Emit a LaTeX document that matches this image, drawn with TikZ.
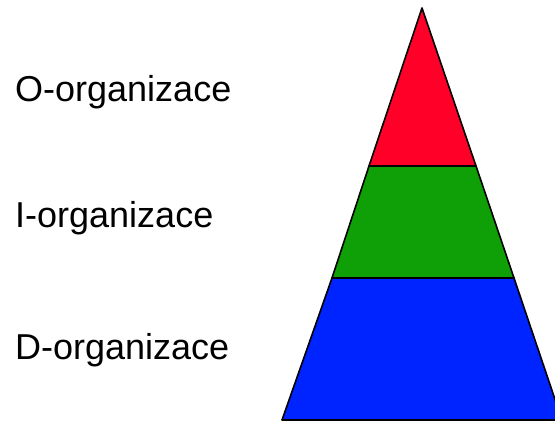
\documentclass[tikz,border=0pt]{standalone}
\usepackage{fontspec}
\setmainfont{Liberation Sans}
\definecolor{levelred}{RGB}{255,0,40}
\definecolor{levelgreen}{RGB}{14,160,6}
\definecolor{levelblue}{RGB}{0,36,255}
\begin{document}
\begin{tikzpicture}[x=1pt, y=-1pt, line join=round,
  every node/.style={font=\fontsize{36}{43}\selectfont, anchor=base west, inner sep=0pt},
  band/.style={draw=black, line width=1.6pt}]
  % page, cut at the right like the original
  \clip (0,0) rectangle (555,422);

  % pyramid bands, top to bottom
  \filldraw[band, fill=levelred] (422,8) -- (369,166) -- (476,166) -- cycle;
  \filldraw[band, fill=levelgreen] (369,166) -- (332,278) -- (514,278) -- (476,166) -- cycle;
  \filldraw[band, fill=levelblue] (332,278) -- (282,420) -- (562,420) -- (514,278) -- cycle;

  % labels
  \node (orgO) at (15,102) {O-organizace};
  \node (orgI) at (15,228) {I-organizace};
  \node (orgD) at (15,360) {D-organizace};
\end{tikzpicture}
\end{document}
